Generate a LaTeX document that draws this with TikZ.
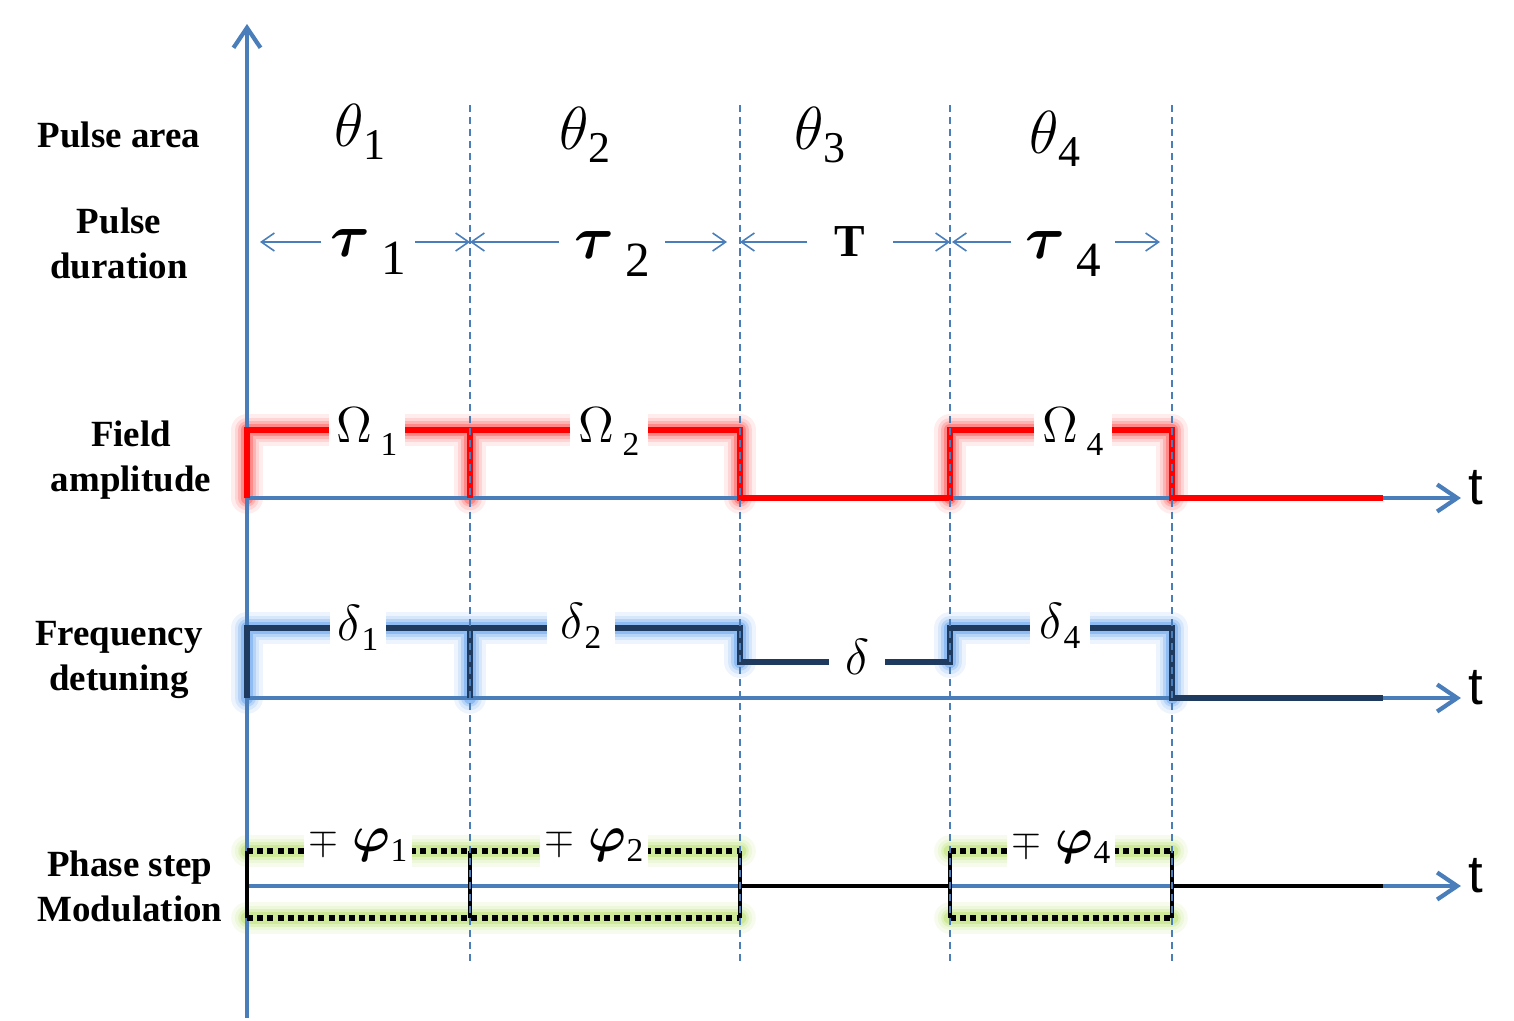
\documentclass[tikz,border=0pt]{standalone}
\usepackage{amsmath}
\usepackage{fontspec}
\setmainfont{Liberation Serif}
\setsansfont{Liberation Sans}
\usetikzlibrary{arrows.meta}

\definecolor{axisblue}{HTML}{4A7EBB}
\definecolor{navy}{HTML}{1F3A5F}
\definecolor{glowred}{HTML}{FF3030}
\definecolor{glowblue}{HTML}{3A8AEA}
\definecolor{glowgreen}{HTML}{A8D848}

\tikzset{
  axis/.style={axisblue, line width=1.2pt, -{Straight Barb[length=2mm,width=2.7mm]}},
  guide/.style={axisblue, line width=0.45pt, dash pattern=on 2pt off 1.4pt},
  durarrow/.style={axisblue, line width=0.45pt, -{Straight Barb[length=1.3mm,width=1.8mm]}},
  sidelabel/.style={font=\fontsize{10.5}{12.8}\selectfont\bfseries, align=center},
  arealabel/.style={font=\fontsize{17}{20}\selectfont},
  durlabel/.style={font=\fontsize{19}{22}\selectfont, inner sep=0pt},
  siglabel/.style={fill=white, inner sep=0pt, minimum height=0.5cm},
  tlabel/.style={font=\sffamily\fontsize{15}{17}\selectfont, inner sep=2pt},
  dotline/.style={black, line width=1.6pt, dash pattern=on 1.7pt off 1.2pt},
  solidstep/.style={line width=1.7pt, line join=miter}
}

% soft halo drawn under a trace
\newcommand{\halo}[2]{%
  \foreach \w/\o in {9pt/0.09, 7pt/0.13, 5pt/0.2, 3.6pt/0.32}{%
    \draw[#1, line width=\w, opacity=\o, line cap=round, line join=round] #2;}}
% lowered index: digit, size, drop
\newcommand{\lowsub}[3]{\raisebox{-#3}{\fontsize{#2}{#2}\selectfont #1}}
% phase step sign
\newcommand{\phasestep}[1]{{\fontsize{11}{13}\selectfont$\mp$}\hspace{4pt}$\boldsymbol{\varphi}$\lowsub{#1}{9.5}{2.8pt}}

\begin{document}
\begin{tikzpicture}[x=0.01cm, y=-0.01cm]
  \useasboundingbox (0,0) rectangle (1514,1021);

  % Halos
  \halo{glowred}{(247,498) -- (247,430) -- (740,430) -- (740,498) (470,430) -- (470,498)
    (950,498) -- (950,430) -- (1172,430) -- (1172,498)}
  \halo{glowblue}{(247,698) -- (247,628) -- (740,628) -- (740,662) (470,628) -- (470,698)
    (950,662) -- (950,628) -- (1172,628) -- (1172,698)}
  \halo{glowgreen}{(247,851) -- (740,851) (247,918) -- (740,918)
    (950,851) -- (1172,851) (950,918) -- (1172,918)}

  % Axes
  \draw[axis] (247,1018) -- (247,24);
  \foreach \y/\n in {498/fa, 698/fd, 886/ps} {
    \coordinate (\n0) at (247,\y);
    \node[tlabel] (t\n) at (1476,\y-10) {t};
    \draw[axis] (\n0) -- (t\n.west |- \n0);
  }

  % Field amplitude
  \draw[red, solidstep] (247,498) -- (247,430) -- (740,430) -- (740,498) -- (950,498)
    -- (950,430) -- (1172,430) -- (1172,498) -- (1383,498);
  \draw[red, solidstep] (470,430) -- (470,498);

  % Frequency detuning
  \draw[navy, solidstep] (247,698) -- (247,628) -- (740,628) -- (740,662) -- (950,662)
    -- (950,628) -- (1172,628) -- (1172,698) -- (1383,698);
  \draw[navy, solidstep] (470,628) -- (470,698);

  % Phase step modulation
  \draw[dotline] (247,851) -- (740,851) (247,918) -- (740,918);
  \draw[dotline] (950,851) -- (1172,851) (950,918) -- (1172,918);
  \draw[black, line width=1.2pt] (247,851) -- (247,918) (470,851) -- (470,918)
    (740,851) -- (740,918) (950,851) -- (950,918) (1172,851) -- (1172,918);
  \draw[black, line width=1.2pt] (740,886) -- (950,886) (1172,886) -- (1383,886);

  % Time marks
  \foreach \x in {470,740,950,1172}
    \draw[guide] (\x,105) -- (\x,965);

  % Row titles
  \node[sidelabel] (area) at (119,135) {Pulse area};
  \node[sidelabel] (dur) at (119,243) {Pulse\\duration};
  \node[sidelabel] (amp) at (131,460) {Field\\amplitude};
  \node[sidelabel] (det) at (119,660) {Frequency\\detuning};
  \node[sidelabel] (phase) at (130,886) {Phase step\\Modulation};

  % Pulse areas
  \node[arealabel] (th1) at (360,132) {$\theta$\lowsub{1}{12.5}{3.7pt}};
  \node[arealabel] (th2) at (585,135) {$\theta$\lowsub{2}{12.5}{3.7pt}};
  \node[arealabel] (th3) at (820,135) {$\theta$\lowsub{3}{12.5}{3.7pt}};
  \node[arealabel] (th4) at (1055,139) {$\theta$\lowsub{4}{12.5}{3.7pt}};

  % Pulse durations
  \node[durlabel, minimum width=0.93cm] (tau1) at (368,252) {$\boldsymbol{\tau}$\,\lowsub{1}{14}{5pt}};
  \node[durlabel, minimum width=1.05cm] (tau2) at (612,254) {$\boldsymbol{\tau}$\,\lowsub{2}{14}{5pt}};
  \node[durlabel, minimum width=0.85cm, font=\fontsize{13}{15}\selectfont\bfseries] (tauT) at (850,242) {T};
  \node[durlabel, minimum width=1.03cm] (tau4) at (1063,254) {$\boldsymbol{\tau}$\,\lowsub{4}{14}{5pt}};
  \foreach \n/\l/\r in {tau1/260/470, tau2/470/727, tauT/740/950, tau4/952/1160} {
    \draw[durarrow] (\n.west |- 0,242) -- (\l,242);
    \draw[durarrow] (\n.east |- 0,242) -- (\r,242);
  }

  % Trace labels
  \node[siglabel, minimum width=0.75cm, font=\fontsize{14}{16}\selectfont] (om1) at (367,432) {$\Omega$\,\lowsub{1}{9.5}{3.7pt}};
  \node[siglabel, minimum width=0.78cm, font=\fontsize{14}{16}\selectfont] (om2) at (609,432) {$\Omega$\,\lowsub{2}{9.5}{3.7pt}};
  \node[siglabel, minimum width=0.77cm, font=\fontsize{14}{16}\selectfont] (om4) at (1073,432) {$\Omega$\,\lowsub{4}{9.5}{3.7pt}};
  \node[siglabel, minimum width=0.56cm, font=\fontsize{15}{17}\selectfont] (de1) at (358,628) {$\delta$\lowsub{1}{9.5}{3pt}};
  \node[siglabel, minimum width=0.67cm, font=\fontsize{15}{17}\selectfont] (de2) at (581,626) {$\delta$\lowsub{2}{9.5}{3pt}};
  \node[siglabel, minimum width=0.55cm, font=\fontsize{15}{17}\selectfont] (de) at (857,657) {$\delta$};
  \node[siglabel, minimum width=0.60cm, font=\fontsize{15}{17}\selectfont] (de4) at (1060,626) {$\delta$\lowsub{4}{9.5}{3pt}};
  \node[siglabel, minimum width=1.07cm, minimum height=0.55cm, font=\fontsize{15}{17}\selectfont] (ph1) at (358,845) {\phasestep{1}};
  \node[siglabel, minimum width=1.08cm, minimum height=0.55cm, font=\fontsize{15}{17}\selectfont] (ph2) at (594,845) {\phasestep{2}};
  \node[siglabel, minimum width=1.08cm, minimum height=0.55cm, font=\fontsize{15}{17}\selectfont] (ph4) at (1061,847) {\phasestep{4}};
\end{tikzpicture}
\end{document}
